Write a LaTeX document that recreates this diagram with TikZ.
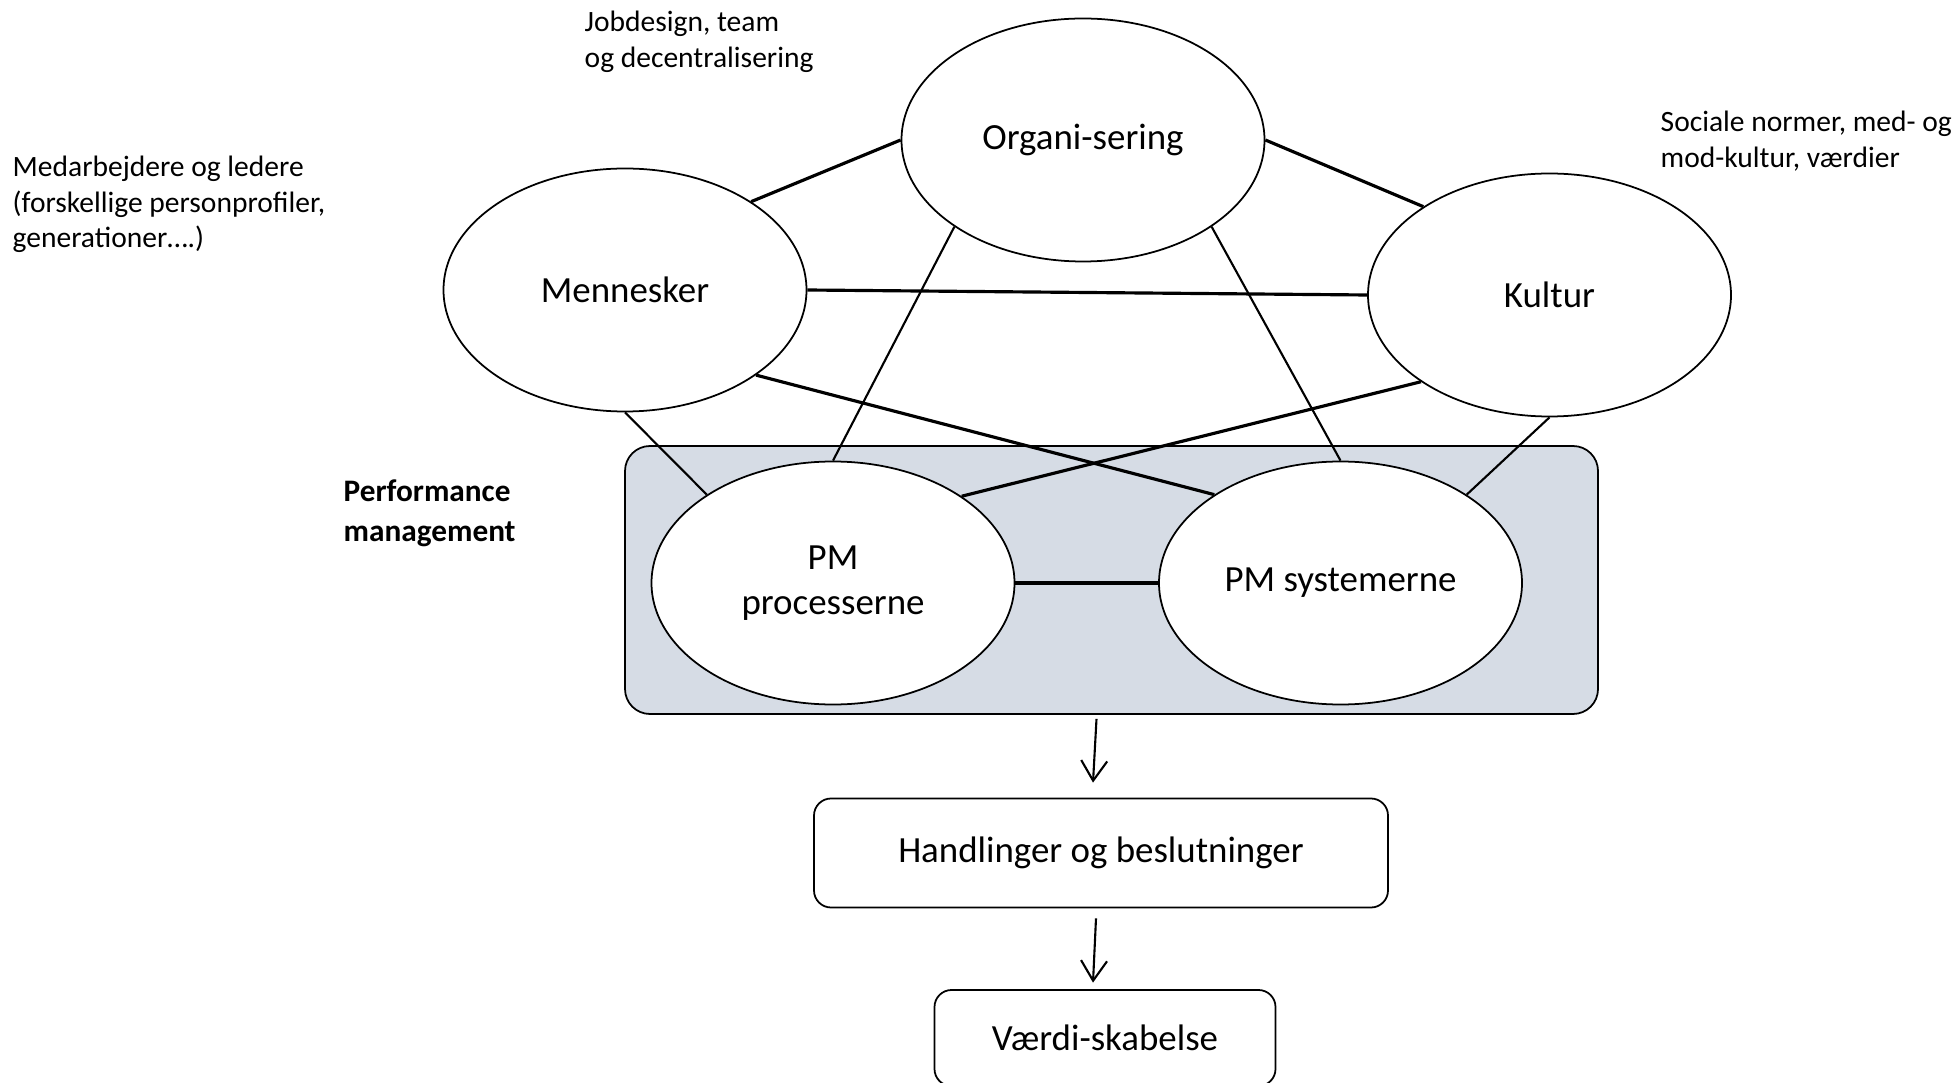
\documentclass[tikz,border=0pt]{standalone}
\usepackage{fontspec}
\setmainfont{Carlito}
\usepackage{xcolor}
\usetikzlibrary{shapes.geometric, arrows.meta}
\definecolor{pmgray}{RGB}{214,220,229}
\tikzset{
  felt/.style   = {ellipse, draw, fill=white, line width=0.5pt, inner sep=0pt,
                   minimum width=3.63cm, minimum height=2.43cm, align=center,
                   font=\fontsize{10.5}{12.6}\selectfont},   % the five fields
  boks/.style   = {rectangle, draw, fill=white, rounded corners=1.7mm,
                   line width=0.5pt, font=\fontsize{10.5}{12.6}\selectfont},
  note/.style   = {anchor=north west, inner sep=0pt, align=left,
                   font=\fontsize{8.4}{10.2}\selectfont},
  tyk/.style    = {line width=0.9pt},
  tynd/.style   = {line width=0.6pt},
  pil/.style    = {-{Straight Barb[length=2mm,width=2.6mm]}, line width=0.6pt}
}

\begin{document}
\begin{tikzpicture}
  \useasboundingbox (0,0) rectangle (19.57,-10.83);
  % performance management area
  \node[draw, fill=pmgray, rounded corners=2.5mm, line width=0.5pt,
        minimum width=9.73cm, minimum height=2.68cm] (pm) at (11.115,-5.80) {};
  \node[felt] (org)  at (10.83,-1.40) {Organi-sering};
  \node[felt] (menn) at (6.25,-2.90)  {Mennesker};
  \node[felt] (kult) at (15.495,-2.95) {Kultur};
  \node[felt] (proc) at (8.33,-5.83)  {PM\\processerne};
  \node[felt] (sys)  at (13.405,-5.83) {PM systemerne};
  \node[boks, minimum width=5.74cm, minimum height=1.09cm] (hand) at (11.01,-8.53) {Handlinger og beslutninger};
  \node[boks, minimum width=3.41cm, minimum height=0.96cm] (vaerdi) at (11.05,-10.38) {Værdi-skabelse};

  % links between the fields
  \draw[tyk]  (menn.35)  -- (org.west);
  \draw[tyk]  (org.east) -- (kult.145);
  \draw[tyk]  (menn.east) -- (kult.west);
  \draw[tynd] (org.214)  -- (proc.north);
  \draw[tynd] (org.326)  -- (sys.north);
  \draw[tyk]  (menn.327) -- (sys.145);
  \draw[tyk]  (kult.214) -- (proc.34);
  \draw[tynd] (menn.south) -- (proc.145);
  \draw[tynd] (kult.south) -- (sys.35);
  \draw[tyk]  (proc.east) -- (sys.west);

  % down to value
  \draw[pil] ([xshift=-1.5mm,yshift=-0.4mm]pm.south) -- ([xshift=-0.8mm,yshift=1.5mm]hand.north);
  \draw[pil] ([xshift=-0.5mm,yshift=-1mm]hand.south) -- ([xshift=-1.2mm,yshift=0.65mm]vaerdi.north);

  % notes
  \node[note] (njob)  at (5.84,-0.10) {Jobdesign, team\\og decentralisering};
  \node[note] (nmed)  at (0.12,-1.55) {Medarbejdere og ledere\\(forskellige personprofiler,\\generationer….)};
  \node[note] (nsoc)  at (16.60,-1.10) {Sociale normer, med- og\\mod-kultur, værdier};
  \node[note, font=\fontsize{8.9}{11.4}\selectfont\bfseries] (npm) at (3.43,-4.79) {Performance\\management};
\end{tikzpicture}
\end{document}
